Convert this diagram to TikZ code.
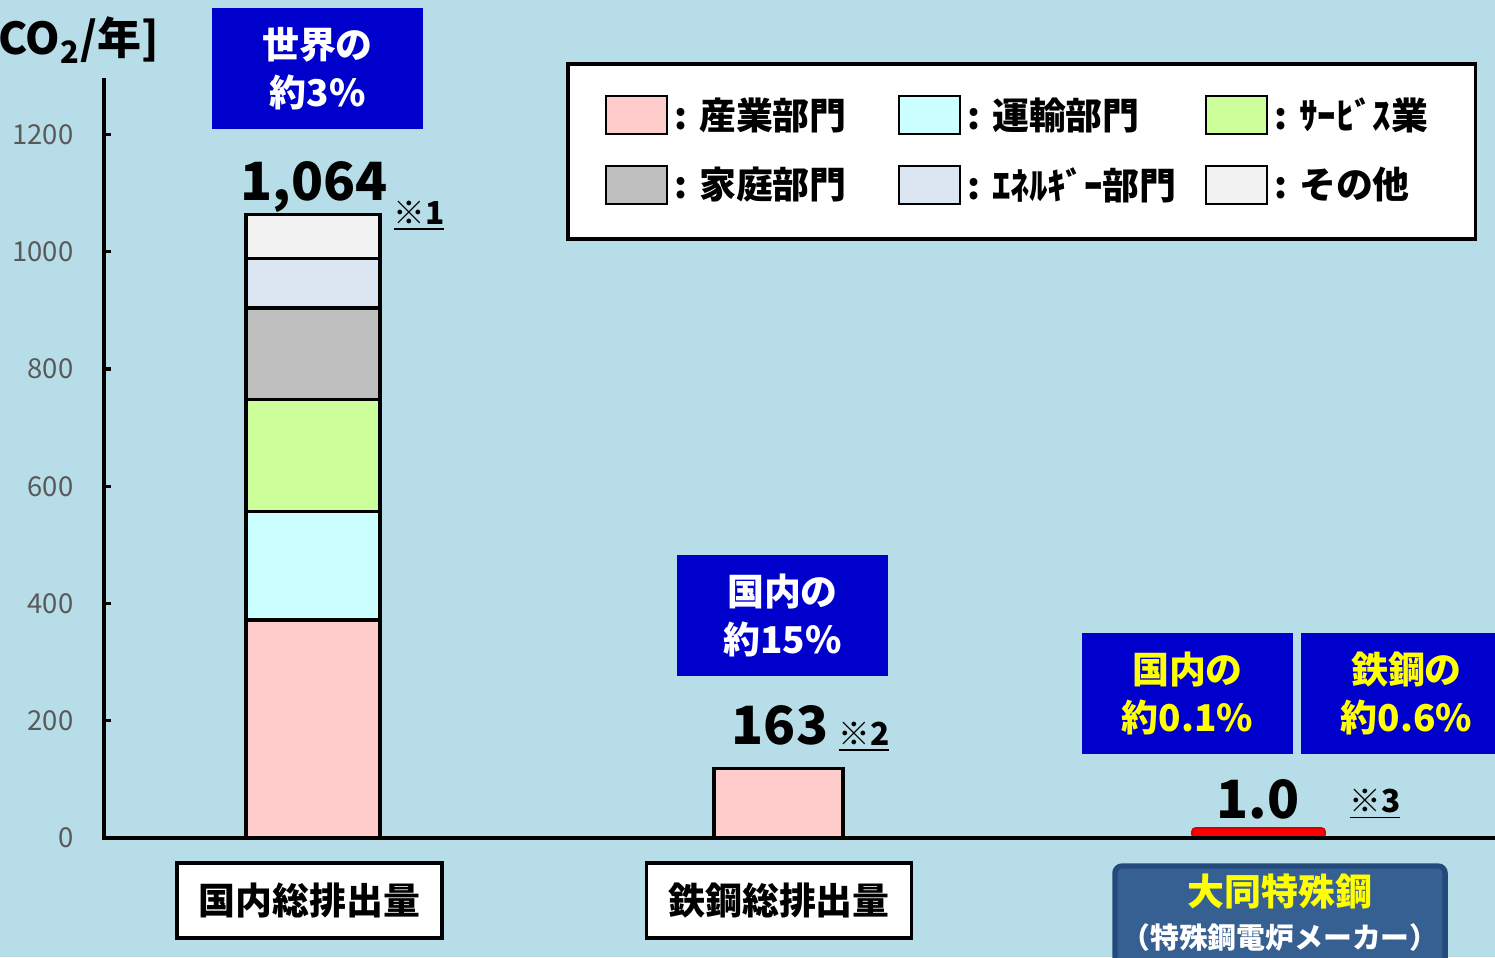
\documentclass[tikz,border=0pt]{standalone}
\usepackage{fontspec}
\setmainfont{Noto Sans CJK JP}
\usepackage{tikz}

\definecolor{bgblue}{HTML}{B7DDE8}
\definecolor{boxblue}{HTML}{0000CC}
\definecolor{indcol}{HTML}{FFCCCC}
\definecolor{trcol}{HTML}{CCFFFF}
\definecolor{svcol}{HTML}{CCFF99}
\definecolor{homecol}{HTML}{BFBFBF}
\definecolor{encol}{HTML}{DCE6F2}
\definecolor{othcol}{HTML}{F2F2F2}
\definecolor{daidofill}{HTML}{376092}
\definecolor{daidoline}{HTML}{244A7C}
\definecolor{tickgray}{HTML}{595959}
\definecolor{marky}{HTML}{FFFF00}

\begin{document}
\begin{tikzpicture}[
      x=0.01cm, y=-0.01cm,
      axis/.style = {line width=0.9pt},
      seg/.style = {draw, line width=0.95pt},
      share/.style = {fill=boxblue, minimum width=2.11cm, minimum height=1.21cm,
                      align=center, inner sep=0pt,
                      font=\fontsize{10.5}{13.7}\selectfont\bfseries},
      total/.style = {anchor=base, font=\fontsize{15}{18}\selectfont\bfseries},
      note/.style = {anchor=base, font=\fontsize{9}{11}\selectfont\bfseries},
      swatch/.style = {draw, line width=0.6pt, minimum width=0.61cm, minimum height=0.38cm,
                       inner sep=0pt},
      legtext/.style = {inner sep=0pt, font=\fontsize{10.5}{12}\selectfont\bfseries},
      catbox/.style = {draw, fill=white, line width=1pt, minimum width=2.65cm,
                       minimum height=0.75cm, font=\fontsize{10.5}{12}\selectfont\bfseries},
      ticklab/.style = {anchor=east, inner sep=0pt, text=tickgray,
                        font=\fontsize{7.8}{9}\selectfont}
    ]
    \clip (0,0) rectangle (1495,957);
    \fill[bgblue] (0,0) rectangle (1495,957);

    % axes
    \coordinate (origin) at (104,838);
    \coordinate (ytop)   at (104,78);
    \coordinate (xend)   at (1495,838);
    \node[anchor=east, inner sep=0pt, font=\fontsize{12.5}{14}\selectfont\bfseries]
      (unit) at (160,40) {CO\textsubscript{2}/年]};

    \begin{scope}[shift={(0,838)}, y=0.005865cm]
      \foreach \v in {0,200,...,1200}{
        \draw[axis] (104,\v) -- (111,\v);
        \node[ticklab] (tick\v) at (74,\v) {\v};
      }

      % domestic total, stacked
      \foreach \lo/\hi/\c in {0/372/indcol, 372/557/trcol, 557/748/svcol,
                              748/904/homecol, 904/989/encol, 989/1064/othcol}{
        \draw[seg, fill=\c] (246,\lo) rectangle (380,\hi);
      }

      % steel industry
      \draw[seg, fill=indcol] (714,0) rectangle (843,119);

      % Daido
      \draw[fill=red, draw=red!85!black, line width=0.5pt, rounded corners=1pt]
        (1192,0) rectangle (1325,17);
    \end{scope}

    \draw[axis] (ytop) -- (origin) -- (xend);

    % shares
    \node[share, text=white] (world)  at (317.5,68.5) {世界の\\約3\%};
    \node[share, text=white] (dom15)  at (782.5,615.5) {国内の\\約15\%};
    \node[share, text=marky] (dom01)  at (1187.5,693.5) {国内の\\約0.1\%};
    \node[share, text=marky] (steel06) at (1406.5,693.5) {鉄鋼の\\約0.6\%};

    % totals
    \node[total] (val1) at (314,200) {1,064};
    \node[note]  (n1)   at (419,224) {\underline{※1}};
    \node[total] (val2) at (780,744) {163};
    \node[note]  (n2)   at (864,745) {\underline{※2}};
    \node[total] (val3) at (1258,818) {1.0};
    \node[note]  (n3)   at (1375,812) {\underline{※3}};

    % legend
    \node[draw, fill=white, line width=1pt, minimum width=9.07cm, minimum height=1.75cm]
      (legend) at (1021.5,151.5) {};
    \foreach \xx/\yy/\c/\t in {605/115/indcol/産業部門, 898/115/trcol/運輸部門,
                               1205/115/svcol/ｻｰﾋﾞｽ業, 605/185/homecol/家庭部門,
                               898/185/encol/ｴﾈﾙｷﾞｰ部門, 1205/185/othcol/その他}{
      \node[swatch, fill=\c, anchor=west] (sw-\c) at (\xx,\yy) {};
      \node[legtext, anchor=west] (lab-\c) at ([xshift=0.06cm]sw-\c.east) {: \t};
    }

    % categories
    \node[catbox] (catdom)   at (309.5,900.5) {国内総排出量};
    \node[catbox] (catsteel) at (779,900.5) {鉄鋼総排出量};
    \node[draw=daidoline, fill=daidofill, line width=1.5pt, rounded corners=2pt,
          minimum width=3.3cm, minimum height=1.05cm] (catdaido) at (1280,918.5) {};
    \node[font=\fontsize{10.5}{12}\selectfont\bfseries, text=marky] (daidoname)
      at (1280,891) {大同特殊鋼};
    \node[font=\fontsize{8.2}{9}\selectfont\bfseries, text=white] (daidokind)
      at (1280,938) {（特殊鋼電炉メーカー）};
  \end{tikzpicture}
\end{document}
